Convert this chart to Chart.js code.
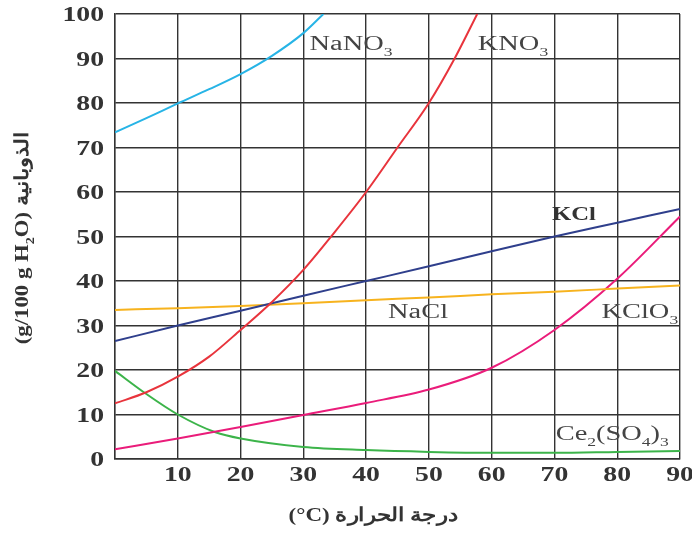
<!DOCTYPE html>
<html>
<head>
<meta charset="utf-8">
<script src="https://cdn.jsdelivr.net/npm/chart.js@4/dist/chart.umd.min.js"></script>
<style>
html,body{margin:0;padding:0;background:#fff;}
#wrap{width:692px;height:538px;}
</style>
</head>
<body>
<div id="wrap"><canvas id="c" width="692" height="538"></canvas></div>
<script>
// ---- data ----
const xTicks = [0,10,20,30,40,50,60,70,80,90];
const yTicks = [0,10,20,30,40,50,60,70,80,90,100];

const nano3T = [0,5,10,15,20,25,30,33.2];
const nano3S = [73.4,76.6,79.9,83.1,86.5,90.6,95.7,100];

const kno3T = [0,5,10,15,20,25,30,35,40,45,50,54.1,57.7];
const kno3S = [12.5,15,18.5,23,29,35.3,42.5,51,60,70,80,90,100];

const kclT = [0,10,20,30,40,50,60,70,80,90];
const kclS = [26.5,30,33.3,36.7,40,43.3,46.7,50,53.1,56.2];

const naclT = [0,10,20,30,40,50,60,70,80,90];
const naclS = [33.5,33.9,34.4,35,35.7,36.3,37,37.6,38.3,39];

const kclo3T = [0,10,20,30,40,50,60,70,80,90];
const kclo3S = [2.2,4.6,7.2,9.9,12.6,15.6,20.5,29,40.5,54.5];

const ceT = [0,5,10,16,20,30,40,50,60,70,80,90];
const ceS = [19.8,14.6,10,6,4.6,2.7,2.0,1.6,1.4,1.4,1.6,1.8];

const seriesNames = ['NaNO_3','KNO_3','KCl','NaCl','KClO_3','Ce_2(SO_4)_3'];
const seriesColors = ['#27b4e6','#e8343c','#2f3f8c','#f7b31e','#ea1c7a','#3cb44a'];
// label anchor (temperature, solubility) for each series name
const labelT = [31,57.8,69.6,43.5,77.5,70.2];
const labelS = [92,92,53.8,31.6,31.6,4.2];

const yTitle = '(g/100 g H_2O) الذوبانية';
const xTitle = '(°C) درجة الحرارة';

// ---- build datasets ----
function pts(T,S){return T.map((t,i)=>({x:t,y:S[i]}));}
const allT=[nano3T,kno3T,kclT,naclT,kclo3T,ceT];
const allS=[nano3S,kno3S,kclS,naclS,kclo3S,ceS];
const datasets = allT.map((T,i)=>({
  label: seriesNames[i].replace(/_/g,''),
  data: pts(T,allS[i]),
  borderColor: seriesColors[i],
  borderWidth: 2,
  pointRadius: 0,
  fill:false,
  cubicInterpolationMode:'monotone'
}));

const SERIF = "'Liberation Serif','Times New Roman','DejaVu Serif',serif";

function parseRich(s){
  const parts=[];let buf='';
  for(let i=0;i<s.length;i++){
    if(s[i]==='_' && i+1<s.length){
      if(buf){parts.push({t:buf,sub:false});buf='';}
      parts.push({t:s[i+1],sub:true});i++;
    } else buf+=s[i];
  }
  if(buf)parts.push({t:buf,sub:false});
  return parts;
}
function richWidth(ctx,parts,size,weight){
  let w=0;
  for(const p of parts){
    ctx.font=weight+' '+(p.sub?size*0.62:size)+'px '+SERIF;
    w+=ctx.measureText(p.t).width;
  }
  return w;
}
function drawRich(ctx,s,x,y,size,weight,sx,align,color){
  const parts=parseRich(s);
  ctx.save();
  ctx.translate(x,y);
  ctx.scale(sx,1);
  ctx.fillStyle=color;
  ctx.textBaseline='alphabetic';
  ctx.textAlign='left';
  const w=richWidth(ctx,parts,size,weight);
  let cx = align==='center'? -w/2 : align==='right'? -w : 0;
  for(const p of parts){
    const fs=p.sub?size*0.62:size;
    ctx.font=weight+' '+fs+'px '+SERIF;
    ctx.fillText(p.t,cx,p.sub?size*0.3:0);
    cx+=ctx.measureText(p.t).width;
  }
  ctx.restore();
}

const textPlugin = {
  id:'textPlugin',
  afterDraw(chart){
    const ctx=chart.ctx;
    const xs=chart.scales.x, ys=chart.scales.y;
    const area=chart.chartArea;
    // y tick labels
    yTicks.forEach(v=>{
      drawRich(ctx,String(v),area.left-11,ys.getPixelForValue(v)+7,21,'bold',1.32,'right','#333');
    });
    // x tick labels (0 omitted)
    xTicks.forEach(v=>{
      if(v===0)return;
      drawRich(ctx,String(v),xs.getPixelForValue(v),area.bottom+22,21,'bold',1.32,'center','#333');
    });
    // series labels
    seriesNames.forEach((n,i)=>{
      if(n==='KCl') drawRich(ctx,n,xs.getPixelForValue(labelT[i]),ys.getPixelForValue(labelS[i]),19,'bold',1.3,'left','#333');
      else drawRich(ctx,n,xs.getPixelForValue(labelT[i]),ys.getPixelForValue(labelS[i]),20,'normal',1.42,'left','#444');
    });
    // axis titles
    drawRich(ctx,xTitle,373,521,19,'bold',1.21,'center','#333');
    ctx.save();
    ctx.translate(28,238);
    ctx.rotate(-Math.PI/2);
    drawRich(ctx,yTitle,0,0,19,'bold',1.2,'center','#333');
    ctx.restore();
  }
};

new Chart(document.getElementById('c'),{
  type:'line',
  data:{datasets},
  options:{
    responsive:false,
    animation:false,
    devicePixelRatio:1,
    layout:{padding:{left:115,right:12,top:14,bottom:79}},
    plugins:{legend:{display:false},tooltip:{enabled:false}},
    scales:{
      x:{type:'linear',min:0,max:90,
        afterBuildTicks(s){s.ticks=xTicks.map(v=>({value:v}));},
        ticks:{display:false},
        grid:{color:'#333',lineWidth:1.4,drawTicks:false},
        border:{color:'#333',width:1.4}},
      y:{type:'linear',min:0,max:100,
        afterBuildTicks(s){s.ticks=yTicks.map(v=>({value:v}));},
        ticks:{display:false},
        grid:{color:'#333',lineWidth:1.4,drawTicks:false},
        border:{color:'#333',width:1.4}}
    }
  },
  plugins:[textPlugin]
});
</script>
</body>
</html>
